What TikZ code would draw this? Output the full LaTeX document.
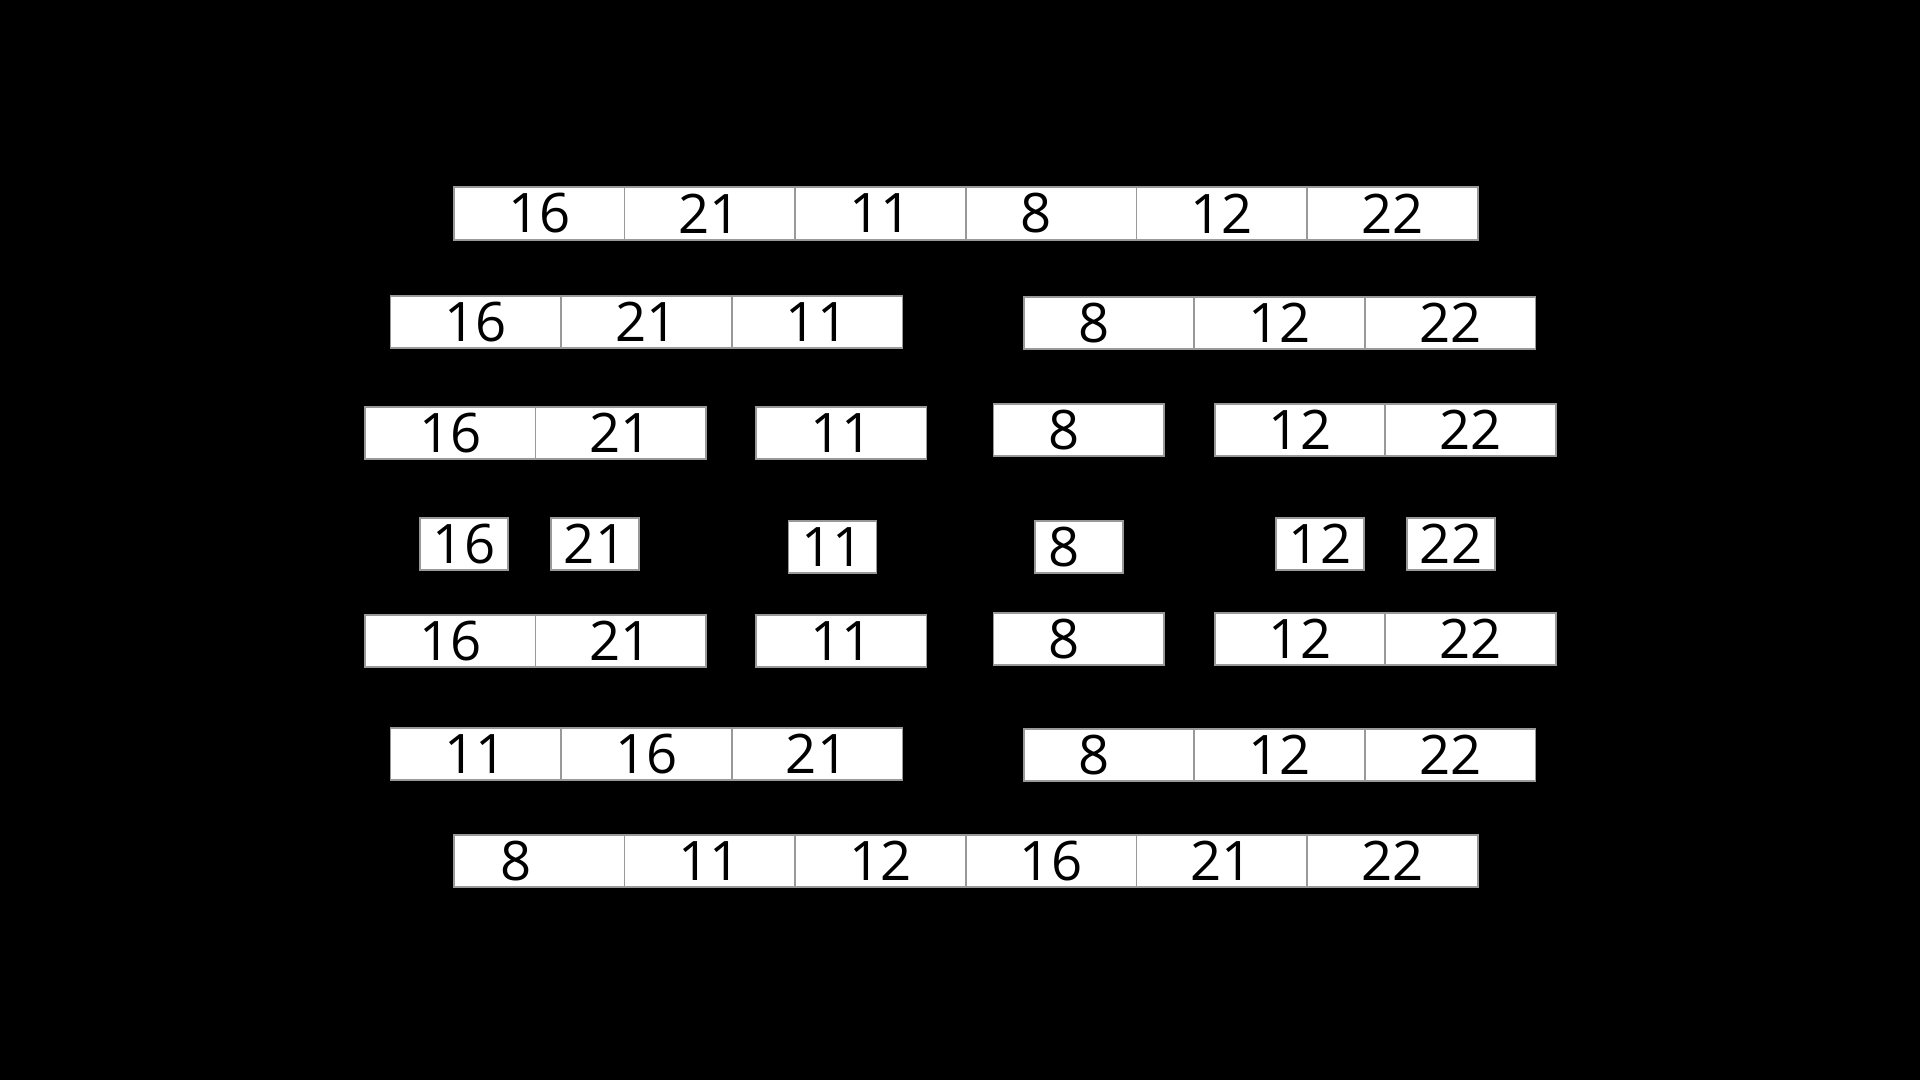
\documentclass[tikz,border=0pt]{standalone}
\usepackage{fontspec}
\setmainfont{Open Sans}
\usepackage{tikz}
\usetikzlibrary{shapes,positioning}
\newcommand{\lone}[2][8.5pt]{#2\rule{#1}{0pt}}
\tikzset{cell/.style={rectangle,draw=gray!80,line width=0.5pt,fill=white,minimum width=1.706cm,minimum height=0.527cm,inner sep=0pt,font=\fontsize{15.5}{18}\selectfont},
         piece/.style={cell,minimum width=0.88cm,minimum height=0.52cm}}

\begin{document}
\begin{tikzpicture}
        \fill[black] (0,0) rectangle (19.2,10.8);
        \useasboundingbox (0,0) rectangle (19.2,10.8);

        % start
        \node[cell] (a1) at (5.393,8.665) {16};
        \node[cell] (a2) at (7.099,8.665) {21};
        \node[cell] (a3) at (8.805,8.665) {11};
        \node[cell] (a4) at (10.511,8.665) {\lone{8}};
        \node[cell] (a5) at (12.217,8.665) {12};
        \node[cell] (a6) at (13.923,8.665) {22};

        % split in halves
        \node[cell] (b1) at (4.759,7.58) {16};
        \node[cell] (b2) at (6.465,7.58) {21};
        \node[cell] (b3) at (8.171,7.58) {11};
        \node[cell] (b4) at (11.09,7.57) {\lone{8}};
        \node[cell] (b5) at (12.796,7.57) {12};
        \node[cell] (b6) at (14.502,7.57) {22};

        \node[cell] (c1) at (4.502,6.47) {16};
        \node[cell] (c2) at (6.208,6.47) {21};
        \node[cell] (c3) at (8.412,6.47) {11};
        \node[cell] (c4) at (10.788,6.50) {\lone{8}};
        \node[cell] (c5) at (13.0,6.50) {12};
        \node[cell] (c6) at (14.706,6.50) {22};

        % single elements
        \node[piece] (d1) at (4.64,5.36) {16};
        \node[piece] (d2) at (5.95,5.36) {21};
        \node[piece] (d3) at (8.326,5.33) {11};
        \node[piece] (d4) at (10.788,5.33) {\lone{8}};
        \node[piece] (d5) at (13.2,5.36) {12};
        \node[piece] (d6) at (14.51,5.36) {22};

        % merge back
        \node[cell] (e1) at (4.502,4.39) {16};
        \node[cell] (e2) at (6.208,4.39) {21};
        \node[cell] (e3) at (8.412,4.39) {11};
        \node[cell] (e4) at (10.788,4.41) {\lone{8}};
        \node[cell] (e5) at (13.0,4.41) {12};
        \node[cell] (e6) at (14.706,4.41) {22};

        \node[cell] (f1) at (4.759,3.26) {11};
        \node[cell] (f2) at (6.465,3.26) {16};
        \node[cell] (f3) at (8.171,3.26) {21};
        \node[cell] (f4) at (11.09,3.25) {\lone{8}};
        \node[cell] (f5) at (12.796,3.25) {12};
        \node[cell] (f6) at (14.502,3.25) {22};

        % sorted
        \node[cell] (g1) at (5.393,2.19) {\lone[13pt]{8}};
        \node[cell] (g2) at (7.099,2.19) {11};
        \node[cell] (g3) at (8.805,2.19) {12};
        \node[cell] (g4) at (10.511,2.19) {16};
        \node[cell] (g5) at (12.217,2.19) {21};
        \node[cell] (g6) at (13.923,2.19) {22};
    \end{tikzpicture}
\end{document}
